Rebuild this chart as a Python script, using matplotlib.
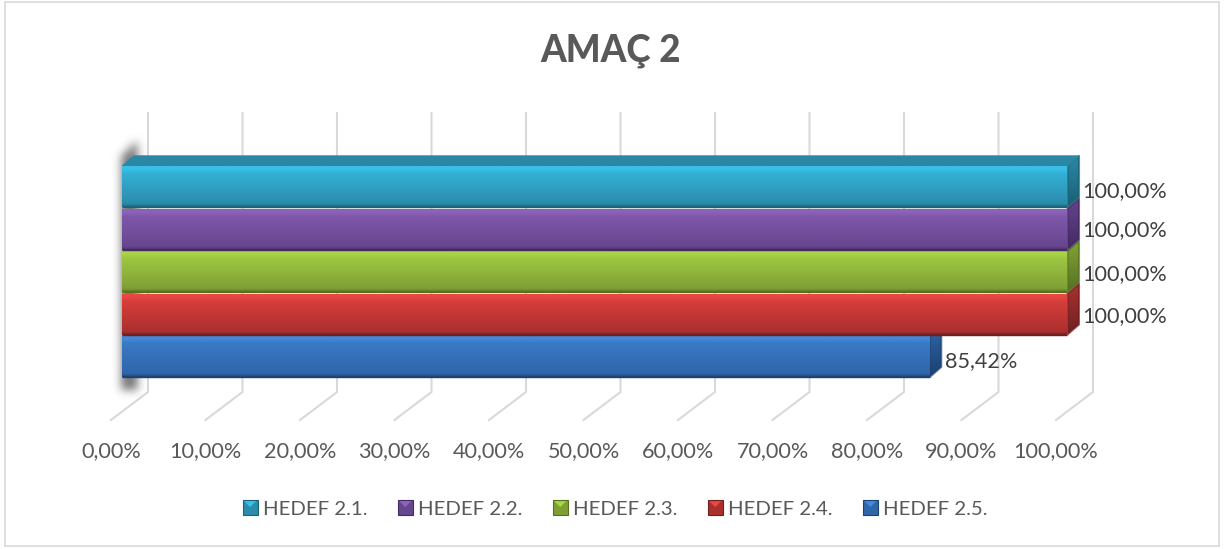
import numpy as np
import matplotlib
matplotlib.use("Agg")
import matplotlib.pyplot as plt
from matplotlib.colors import LinearSegmentedColormap
from matplotlib.patches import Polygon, Rectangle
from matplotlib.legend_handler import HandlerBase
from matplotlib.lines import Line2D

plt.rcParams['font.family'] = ['Lato', 'DejaVu Sans']

categories = ["HEDEF 2.5.", "HEDEF 2.4.", "HEDEF 2.3.", "HEDEF 2.2.", "HEDEF 2.1."]
values = [85.42, 100.0, 100.0, 100.0, 100.0]
value_labels = ["85,42%", "100,00%", "100,00%", "100,00%", "100,00%"]
ticks = [0, 10, 20, 30, 40, 50, 60, 70, 80, 90, 100]
tick_labels = ["0,00%", "10,00%", "20,00%", "30,00%", "40,00%", "50,00%",
               "60,00%", "70,00%", "80,00%", "90,00%", "100,00%"]
title = "AMAÇ 2"
light = ["#4289dc", "#e84744", "#aad448", "#8c63b9", "#3ac0e8"]
top = ["#3a79c6", "#d63d3a", "#9dc742", "#7f57aa", "#34b0d6"]
bot = ["#2f66a8", "#aa302e", "#7f9f35", "#66468f", "#2b8cab"]
edge = ["#1d416f", "#702020", "#55701f", "#432b60", "#1c6377"]
side_top = ["#2e66a8", "#a83230", "#83a537", "#654590", "#2a88a4"]
side_bot = ["#1c4070", "#6e2020", "#566f22", "#42295f", "#1a5f75"]
top_face = "#2b87a3"

W, H = 1225, 549
fig = plt.figure(figsize=(W / 100, H / 100), dpi=100, facecolor="white")
ax = fig.add_axes([0, 0, 1, 1])

PX = 9.45
PY = 42.5
X0, Y0 = 122.5, 356.5
ax.set_xlim(-X0 / PX, (W - X0) / PX)
ax.set_ylim((Y0 - H) / PY, Y0 / PY)
ax.axis("off")
dx, dy = 11.5 / PX, 10 / PY
hh = 20.5 / PY


def grad(stops, extent, clip=None, z=3):
    cm = LinearSegmentedColormap.from_list("g", stops)
    im = ax.imshow(np.linspace(0, 1, 256)[:, None], cmap=cm, extent=extent,
                   aspect="auto", origin="upper", zorder=z, interpolation="bilinear")
    if clip is not None:
        im.set_clip_path(clip)
    return im


def blur(a, s):
    k = np.exp(-0.5 * (np.arange(-15, 16) / s) ** 2)
    k /= k.sum()
    a = np.apply_along_axis(lambda r: np.convolve(r, k, mode="same"), 0, a)
    return np.apply_along_axis(lambda r: np.convolve(r, k, mode="same"), 1, a)


# soft shadow behind the block of bars
sx = np.arange(85, 180)
sy = np.arange(110, 425)
gxx, gyy = np.meshgrid(sx, sy)
top_edge = 157 - (gxx - 120) * 1.0
mask = ((gxx >= 121) & (gxx <= 136) & (gyy >= top_edge) & (gyy <= 389)).astype(float)
alpha = blur(mask, 4.5) * 0.85
rgba = np.zeros(alpha.shape + (4,))
rgba[..., :3] = 0.36
rgba[..., 3] = alpha
ax.imshow(rgba, extent=[(85 - X0) / PX, (180 - X0) / PX, (Y0 - 425) / PY, (Y0 - 110) / PY],
          aspect="auto", origin="upper", zorder=1.5, interpolation="bilinear")

# frame
ax.add_patch(Rectangle(((5.5 - X0) / PX, (Y0 - 546) / PY), 1213.5 / PX, 544 / PY,
                       fill=False, ec="#d9d9d9", lw=1.2, zorder=0))

gc = "#d9d9d9"
gx, gy_top, gy_bot = 25.5 / PX, (Y0 - 113) / PY, (Y0 - 392) / PY
fx, fy = -11.5 / PX, (Y0 - 420) / PY
for t, lab in zip(ticks, tick_labels):
    ax.plot([t + gx, t + gx, t + fx], [gy_top, gy_bot, fy], color=gc, lw=1.5,
            solid_joinstyle="miter", zorder=1)
    ax.text(t + fx, (Y0 - 451) / PY, lab, ha="center", va="center",
            fontsize=15.6, color="#595959")

n = len(values)
for i, v in enumerate(values):
    yb, yt = i - hh, i + hh
    pts = [(v, yb), (v + dx, yb + dy), (v + dx, yt + dy), (v, yt)]
    side = Polygon(pts, closed=True, transform=ax.transData, fc="none", ec="none")
    ax.add_patch(side)
    grad([side_top[i], side_bot[i]], [v, v + dx, yb, yt + dy], clip=side, z=2.5)
    ax.add_patch(Polygon(pts, closed=True, fill=False, ec=side_bot[i], lw=1.5,
                         joinstyle="round", alpha=.7, zorder=2.6))
    stops = [(0, light[i]), (0.07, light[i]), (0.18, top[i]), (0.92, bot[i]), (1, edge[i])]
    grad(stops, [0, v, yb, yt], z=3)
    ax.plot([0, v], [yb, yb], color=edge[i], lw=1.0, zorder=3.2, solid_capstyle="butt")

i = n - 1
ax.add_patch(Polygon([(0, i + hh), (dx, i + hh + dy), (values[i] + dx, i + hh + dy), (values[i], i + hh)],
                     closed=True, fc=top_face, ec=top_face, lw=1, joinstyle="round", zorder=2.7))

off = [1.6, 1.55, 1.55, 1.55, 1.55]
lab_dy = [-5.0, -2.0, -3.0, -1.5, -4.5]
for i, v in enumerate(values):
    ax.text(v + off[i], i + lab_dy[i] / PY, value_labels[i], ha="left", va="center",
            fontsize=15.6, color="#404040", zorder=5)

ax.text(51.6, (Y0 - 51) / PY, title, ha="center", va="center", fontsize=26.5,
        fontweight=900, color="#595959")


class Cube(HandlerBase):
    def create_artists(self, legend, orig, xd, yd, w, h, fs, trans):
        c = orig.get_color()
        cl = orig.get_markerfacecolor()
        cd = orig.get_markeredgecolor()
        s = w
        y0 = yd + (h - s) / 2
        sq = Rectangle((xd, y0), s, s, fc=c, ec=cd, lw=.8, transform=trans)
        tri = Polygon([(xd + .1 * s, y0 + .9 * s), (xd + .9 * s, y0 + .9 * s), (xd + .5 * s, y0 + .5 * s)],
                      fc=cl, ec="none", transform=trans)
        return [sq, tri]


handles = [Line2D([], [], color=bot[i], markerfacecolor=light[i], markeredgecolor=edge[i],
                  label=categories[i]) for i in range(n - 1, -1, -1)]
ax.legend(handles=handles, handler_map={Line2D: Cube()}, ncol=5, frameon=False,
          loc="center", bbox_to_anchor=(615 / W, 1 - 509 / H), bbox_transform=fig.transFigure,
          fontsize=14.7, labelcolor="#595959",
          handlelength=0.735, handleheight=0.735,
          handletextpad=0.245, columnspacing=1.5, borderpad=0, borderaxespad=0)

fig.savefig("out.png", dpi=100)
